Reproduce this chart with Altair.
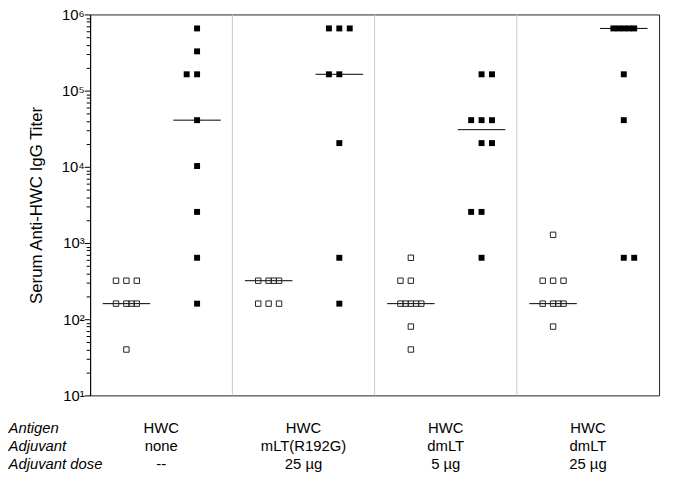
import altair as alt
import pandas as pd

# ---- data (2-fold dilution titers) ----
open_values = [
    [320, 320, 320, 160, 160, 160, 160, 40],
    [320, 320, 320, 320, 160, 160, 160],
    [640, 320, 320, 160, 160, 160, 160, 160, 80, 40],
    [1280, 320, 320, 320, 160, 160, 160, 160, 80],
]
open_slots = [
    [-2, 0, 2, -2, 0, 1, 2, 0],
    [-2, 0, 1, 2, -2, 0, 2],
    [0, -2, 0, -2, -1, 0, 1, 2, 0, 0],
    [0, -2, 0, 2, -2, 0, 1, 2, 0],
]
filled_values = [
    [655360, 327680, 163840, 163840, 40960, 10240, 2560, 640, 160],
    [655360, 655360, 655360, 163840, 163840, 20480, 640, 160],
    [163840, 163840, 40960, 40960, 40960, 20480, 20480, 2560, 2560, 640],
    [655360, 655360, 655360, 655360, 655360, 163840, 40960, 640, 640],
]
filled_slots = [
    [0, 0, -2, 0, 0, 0, 0, 0, 0],
    [-2, 0, 2, -2, 0, 0, 0, 0],
    [0, 2, -2, 0, 2, 0, 2, -2, 0, 0],
    [-2, -1, 0, 1, 2, 0, 0, 0, 2],
]
separators = [1, 2, 3]
row_labels = ["Antigen", "Adjuvant", "Adjuvant dose"]
antigen = ["HWC", "HWC", "HWC", "HWC"]
adjuvant = ["none", "mLT(R192G)", "dmLT", "dmLT"]
dose = ["--", "25 \u00b5g", "5 \u00b5g", "25 \u00b5g"]
major_ticks = [10, 100, 1000, 10000, 100000, 1000000]

SLOT = 0.0366
OPEN_BASE = 0.255
FILLED_BASE = 0.752
HALF = 0.167

rows = []
for g in range(4):
    for kind, vals, slots, base in (("open", open_values[g], open_slots[g], OPEN_BASE),
                                    ("filled", filled_values[g], filled_slots[g], FILLED_BASE)):
        for v, s in zip(vals, slots):
            rows.append(dict(g=g, kind=kind, value=v, center=g + base, x=g + base + s * SLOT))
df = pd.DataFrame(rows)

minor_ticks = [m * 10 ** k for k in range(1, 6) for m in range(2, 10)]

xscale = alt.Scale(domain=[0, 4], nice=False, zero=False)
yscale = alt.Scale(type="log", domain=[10, 1000000], nice=False)

is_major = "abs(log(datum.value)/LN10 - round(log(datum.value)/LN10)) < 0.001"
yaxis = alt.Axis(
    values=major_ticks + minor_ticks,
    title="Serum Anti-HWC IgG Titer",
    titleFontSize=17, titleFontWeight="normal", titleColor="black", titlePadding=16,
    labelExpr="(" + is_major + ") ? '10' + ['\u2070','\u00b9','\u00b2','\u00b3','\u2074','\u2075','\u2076'][round(log(datum.value)/LN10)] : ''",
    labelFontSize=15, labelColor="black", labelPadding=0, labelOverlap=False,
    grid=False,
    tickSize={"condition": {"test": is_major, "value": 6}, "value": 4},
    tickColor="black", domainColor="black",
)

seps = alt.Chart(pd.DataFrame({"sep": separators})).mark_rule(
    color="#c8c8c8", strokeWidth=1
).encode(x=alt.X("sep:Q", scale=xscale, axis=None))

med = alt.Chart(df).transform_aggregate(
    med="median(value)", groupby=["g", "kind", "center"]
).transform_calculate(
    x1="datum.center - %f" % HALF, x2="datum.center + %f" % HALF
).mark_rule(color="black", strokeWidth=1).encode(
    x=alt.X("x1:Q", scale=xscale, axis=None),
    x2="x2:Q",
    y=alt.Y("med:Q", scale=yscale, axis=yaxis),
)

pts_open = alt.Chart(df).transform_filter(alt.datum.kind == "open").mark_square(
    size=30, filled=False, color="#222", strokeWidth=1, opacity=1
).encode(
    x=alt.X("x:Q", scale=xscale, axis=None),
    y=alt.Y("value:Q", scale=yscale, axis=yaxis),
)

pts_filled = alt.Chart(df).transform_filter(alt.datum.kind == "filled").mark_square(
    size=36, filled=True, color="black", opacity=1
).encode(
    x=alt.X("x:Q", scale=xscale, axis=None),
    y=alt.Y("value:Q", scale=yscale, axis=yaxis),
)

top = alt.layer(seps, med, pts_open, pts_filled).properties(
    width=575, height=385,
    view=alt.ViewBackground(stroke="#222", strokeWidth=1),
)

trows = []
for i in range(4):
    for lab, txt in zip(row_labels, [antigen[i], adjuvant[i], dose[i]]):
        trows.append(dict(pos=i + 0.5, row=lab, text=txt))
tdf = pd.DataFrame(trows)

table = alt.Chart(tdf).mark_text(fontSize=15, color="black", baseline="middle").encode(
    x=alt.X("pos:Q", scale=xscale, axis=None),
    y=alt.Y("row:N", scale=alt.Scale(type="point", domain=row_labels, padding=0.5),
            axis=alt.Axis(title=None, ticks=False, domain=False, labelAlign="left",
                          labelPadding=83, labelFontSize=15, labelFontStyle="italic",
                          labelColor="black")),
    text="text:N",
).properties(width=575, height=54)

chart = alt.vconcat(top, table, spacing=15).properties(
    padding={"left": 0, "top": -4, "right": 5, "bottom": 5}
).configure(font="Liberation Sans").configure_view(strokeWidth=0)

chart.save("out.html", embed_options={"renderer": "svg", "actions": False})
